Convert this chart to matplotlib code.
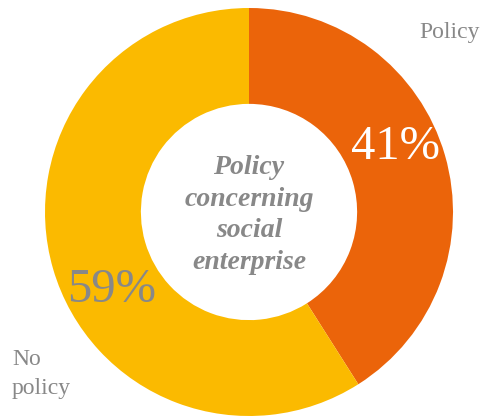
import matplotlib.pyplot as plt

labels = ["Policy", "No\npolicy"]
shares = [41, 59]
colors = ["#EB640A", "#FBBA00"]
pct_colors = ["white", "#888888"]
center_title = "Policy\nconcerning\nsocial\nenterprise"

W, H = 483, 417
fig = plt.figure(figsize=(W / 100, H / 100), dpi=100)
ax = fig.add_axes([0, 0, 1, 1])

cx, cy, r = 249, H - 212, 204
wedges, _ = ax.pie(shares, colors=colors, startangle=90, counterclock=False,
                   center=(cx, cy), radius=r, frame=True,
                   wedgeprops=dict(width=r * 0.47, linewidth=0))
ax.set_xlim(0, W)
ax.set_ylim(0, H)
ax.set_aspect("equal")
ax.axis("off")

serif = "Liberation Serif"
gray = "#888888"

ax.text(395, H - 147, f"{shares[0]}%", color=pct_colors[0], fontsize=35,
        family=serif, ha="center", va="center")
ax.text(112, H - 290, f"{shares[1]}%", color=pct_colors[1], fontsize=35,
        family=serif, ha="center", va="center")

ax.text(cx, H - 215, center_title, color=gray, fontsize=20, family=serif,
        style="italic", weight="bold", ha="center", va="center",
        linespacing=1.36)

ax.text(480, H - 32, labels[0], color=gray, fontsize=17, family=serif,
        ha="right", va="center")
ax.text(12, H - 374, labels[1], color=gray, fontsize=17, family=serif,
        ha="left", va="center", linespacing=1.5)

fig.savefig("out.png", dpi=100)
